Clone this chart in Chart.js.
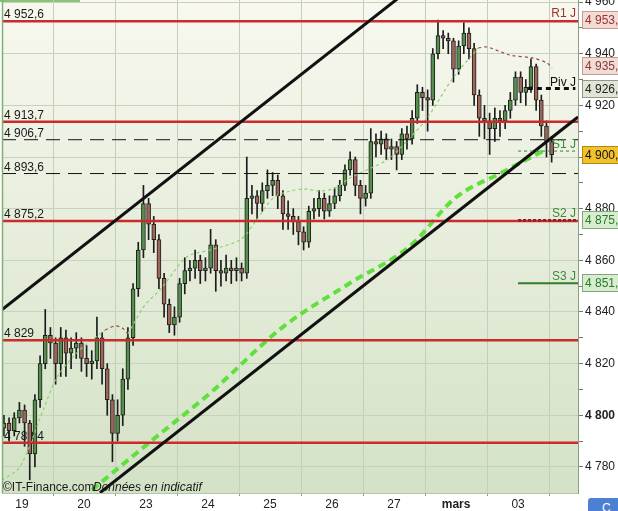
<!DOCTYPE html>
<html>
<head>
<meta charset="utf-8">
<script src="https://cdn.jsdelivr.net/npm/chart.js@4.4.1/dist/chart.umd.min.js"></script>
<style>
  html, body { margin: 0; padding: 0; background: #fff; }
  #wrap { position: relative; width: 618px; height: 511px; overflow: hidden; }
  #btn { position: absolute; left: 588px; top: 498px; width: 60px; height: 24px; background: #4d80d4;
         border-radius: 3px; color: #fff; font: 12px "Liberation Sans", Arial, sans-serif;
         padding: 3px 0 0 14px; box-sizing: border-box; }
</style>
</head>
<body>
<div id="wrap">
  <canvas id="cac40" width="618" height="511"></canvas>
  <div id="btn">C</div>
</div>
<script>
// jours (axe x en nombre de bougies, 12 bougies par jour)
const dayLabels = ['19', '20', '23', '24', '25', '26', '27', 'mars', '03'];
const dayStarts = [3.5, 15.5, 27.5, 39.5, 51.5, 63.5, 75.5, 87.5, 99.5];

// bougies
const opens = [4795,4797,4794,4799,4802,4797,4785,4806,4820,4831,
  4828,4820,4830,4824,4826,4828,4822,4820,4821,4830,
  4818,4806,4793,4800,4814,4830,4849,4864,4882,4874,
  4868,4853,4843,4835,4838,4851,4856,4857,4860,4856,
  4857,4866,4856,4855,4857,4856,4857,4855,4884,4885,
  4882,4887,4889,4891,4885,4878,4877,4875,4871,4867,
  4879,4880,4884,4879,4882,4885,4889,4895,4899,4889,
  4884,4886,4906,4905,4907,4903,4904,4901,4909,4907,
  4915,4925,4923,4922,4940,4947,4946,4945,4934,4943,
  4948,4942,4924,4915,4914,4911,4915,4914,4918,4922,
  4931,4925,4927,4935,4922,4912,4906];
const closes = [4797,4794,4799,4802,4797,4785,4806,4820,4831,4828,
  4820,4830,4824,4826,4828,4822,4820,4821,4830,4818,
  4806,4793,4800,4814,4830,4849,4864,4882,4874,4868,
  4853,4843,4835,4838,4851,4856,4857,4860,4856,4857,
  4866,4856,4855,4857,4856,4857,4855,4884,4885,4882,
  4887,4889,4891,4885,4878,4877,4875,4871,4867,4879,
  4880,4884,4879,4882,4885,4889,4895,4899,4889,4884,
  4886,4906,4905,4907,4903,4904,4901,4909,4907,4915,
  4925,4923,4922,4940,4947,4946,4945,4934,4943,4948,
  4942,4924,4915,4914,4911,4915,4914,4918,4922,4931,
  4925,4927,4935,4922,4912,4906,4900.9];
const highs = [4800,4799,4801,4805,4804,4798,4808,4823,4841,4834,
  4830,4834,4833,4830,4832,4830,4827,4825,4838,4832,
  4820,4808,4806,4818,4834,4851,4867,4889,4884,4877,
  4870,4855,4845,4842,4853,4861,4860,4864,4862,4861,
  4872,4868,4860,4862,4860,4861,4859,4900,4889,4887,
  4890,4895,4894,4893,4887,4883,4880,4877,4873,4881,
  4884,4887,4886,4885,4888,4891,4897,4902,4900,4891,
  4889,4911,4909,4910,4909,4907,4906,4911,4912,4918,
  4928,4927,4926,4942,4953,4949,4948,4946,4945,4952,
  4950,4944,4926,4920,4917,4919,4918,4920,4925,4933,
  4933,4930,4938,4936,4924,4914,4908];
const lows = [4792,4790,4792,4797,4788,4775,4780,4803,4818,4822,
  4812,4815,4815,4818,4822,4817,4815,4814,4818,4812,
  4800,4782,4790,4796,4810,4827,4846,4861,4868,4863,
  4849,4838,4832,4831,4836,4847,4852,4853,4851,4852,
  4855,4848,4850,4852,4851,4852,4852,4853,4878,4876,
  4879,4884,4885,4880,4872,4872,4870,4866,4864,4865,
  4876,4877,4876,4877,4880,4883,4887,4893,4885,4878,
  4881,4884,4900,4901,4899,4899,4895,4899,4903,4905,
  4913,4918,4910,4920,4938,4942,4940,4929,4932,4940,
  4938,4920,4908,4907,4901,4906,4908,4911,4915,4920,
  4921,4920,4925,4918,4908,4900,4898];

// moyennes mobiles [indice, valeur]
const longMA = [[17.05,4771.1],[28.3,4789.7],[39.9,4808.6],[54.0,4834.2],[67.0,4851.2],
  [78.6,4865.5],[87.3,4884.1],[96.6,4894.2],[104.7,4902.7]];
const shortMAup1 = [[-0.4,4774.9],[3.1,4780.0],[7.6,4802.0],[10.3,4814.8],[14.7,4825.3],[19.6,4833.0]];
const shortMAdown1 = [[19.6,4833.0],[21.5,4834.6],[22.9,4833.8],[24.0,4831.5]];
const shortMAup2 = [[24.0,4831.5],[27.3,4842.7],[30.2,4848.5],[35.4,4861.3],[39.9,4864.0],
  [45.7,4867.9],[48.6,4874.8],[52.1,4884.1],[55.4,4886.8],[58.3,4887.6],[61.2,4886.8],
  [64.1,4888.0],[67.0,4891.9],[74.1,4898.8],[76.7,4903.5],[81.9,4915.1],[86.9,4930.6],[91.8,4942.2]];
const shortMAdown2 = [[91.8,4942.2],[93.5,4942.6],[97.9,4939.5],[102.4,4938.3],[105.1,4936.4],[106.1,4934.4]];

// canal
const channelUpper = [[-0.4,4840.8],[80.5,4968.1]];
const channelLower = [[18.6,4770.0],[111.1,4915.5]];

// niveaux
const redLevels = [4952.6, 4913.7, 4875.2, 4829, 4789.4];
const dashedLevels = [4906.7, 4893.6];
const pivotNames = ['R1 J', 'Piv J', 'S1 J', 'S2 J', 'S3 J'];
const pivotValues = [4953.1, 4926.5, 4902.3, 4875.5, 4851.1];
const boxValues = [4953.1, 4935.1, 4926.5, 4900.9, 4875.5, 4851.1];
const yTickValues = [4780,4790,4800,4810,4820,4830,4840,4850,4860,4870,
  4880,4890,4900,4910,4920,4930,4940,4950,4960];

const X_MIN = -0.37, X_MAX = 111.1;
const FONT = '"Liberation Sans", Arial, sans-serif';

function fmt(v) {
  let s = (v % 1 !== 0) ? v.toFixed(1).replace('.', ',') : String(Math.round(v));
  return s.replace(/^(\d)(\d{3})/, '$1 $2');
}
const pts = arr => arr.map(p => ({ x: p[0], y: p[1] }));
const hline = v => [{ x: X_MIN, y: v }, { x: X_MAX, y: v }];

function lineDs(data, color, width, dash, order, extra) {
  return Object.assign({
    type: 'line', data: data, borderColor: color, borderWidth: width, borderDash: dash || [],
    pointRadius: 0, fill: false, tension: 0, order: order
  }, extra || {});
}

const datasets = [];
// meches
datasets.push({
  type: 'bar', data: closes.map((c, i) => ({ x: i, y: [lows[i], highs[i]] })),
  backgroundColor: '#1c1c1c', barThickness: 1, grouped: false, order: 20
});
// corps
datasets.push({
  type: 'bar', data: closes.map((c, i) => ({ x: i, y: [opens[i], c] })),
  backgroundColor: closes.map((c, i) => c >= opens[i] ? '#54904c' : '#9e6658'),
  borderColor: '#1e1e1e', borderWidth: 1, borderSkipped: false, barThickness: 4, grouped: false, order: 19
});
datasets.push(lineDs(pts(longMA), '#5fe03c', 4, [8, 5], 8, { cubicInterpolationMode: 'monotone' }));
datasets.push(lineDs(pts(shortMAup1), '#86d46e', 1.2, [3, 3], 9, { tension: 0.3 }));
datasets.push(lineDs(pts(shortMAdown1), '#9a4a44', 1.2, [3, 3], 9, { tension: 0.3 }));
datasets.push(lineDs(pts(shortMAup2), '#86d46e', 1.2, [3, 3], 9, { tension: 0.3 }));
datasets.push(lineDs(pts(shortMAdown2), '#9a4a44', 1.2, [3, 3], 9, { tension: 0.3 }));
redLevels.forEach(v => datasets.push(lineDs(hline(v), '#cc2b2b', 2.5, [], 3)));
dashedLevels.forEach(v => datasets.push(lineDs(hline(v), '#111', 1, [14, 8], 4)));
datasets.push(lineDs(pts(channelUpper), '#111', 3, [], 2));
datasets.push(lineDs(pts(channelLower), '#111', 3, [], 2));
// segments pivots
datasets.push(lineDs([{ x: 101.4, y: pivotValues[1] }, { x: 110.6, y: pivotValues[1] }], '#111', 3, [5, 4], 1));
datasets.push(lineDs([{ x: 99.5, y: pivotValues[2] }, { x: X_MAX, y: pivotValues[2] }], '#3a7a3a', 1, [3, 3], 1));
datasets.push(lineDs([{ x: 99.5, y: pivotValues[3] }, { x: X_MAX, y: pivotValues[3] }], '#8b2020', 2.5, [3, 2], 1));
datasets.push(lineDs([{ x: 99.5, y: pivotValues[4] }, { x: X_MAX, y: pivotValues[4] }], '#2d7d2d', 2, [], 1));

const boxStyles = [
  { bg: '#f2dcd6', border: '#c99a8c', text: '#a03030' },
  { bg: '#f0ddd6', border: '#c99a8c', text: '#8b3a3a' },
  { bg: '#dfe6d5', border: '#8f9a86', text: '#222' },
  { bg: '#f2c22c', border: '#b08a10', text: '#111' },
  { bg: '#d8ecd0', border: '#80a878', text: '#2a7a2a' },
  { bg: '#d8ecd0', border: '#80a878', text: '#2a7a2a' }
];
const pivotColors = ['#a03030', '#111', '#3a8a3a', '#3a8a3a', '#3a8a3a'];

const decor = {
  id: 'decor',
  beforeDraw(chart) {
    const { ctx, chartArea: a } = chart;
    ctx.save();
    ctx.fillStyle = '#fff';
    ctx.fillRect(0, 0, chart.width, chart.height);
    const g = ctx.createLinearGradient(0, a.top, 0, a.bottom);
    g.addColorStop(0, '#f8f8ef');
    g.addColorStop(0.5, '#e6eddb');
    g.addColorStop(1, '#d3e2c6');
    ctx.fillStyle = g;
    ctx.fillRect(a.left, a.top, a.right - a.left, a.bottom - a.top);
    ctx.fillStyle = '#8cc274';
    ctx.fillRect(0, 0, 80, 2);
    ctx.restore();
  },
  beforeDatasetsDraw(chart) {
    const { ctx, scales: { y } } = chart;
    ctx.save();
    ctx.font = '12px ' + FONT;
    ctx.fillStyle = '#1a1a1a';
    ctx.textBaseline = 'alphabetic';
    redLevels.concat(dashedLevels).forEach(v => {
      ctx.fillText(fmt(v), 4, y.getPixelForValue(v) - 3);
    });
    ctx.restore();
  },
  afterDatasetsDraw(chart) {
    const { ctx, chartArea: a, scales: { y } } = chart;
    ctx.save();
    ctx.strokeStyle = '#7fb070';
    ctx.lineWidth = 1.5;
    ctx.beginPath();
    ctx.moveTo(a.left + 0.5, a.top);
    ctx.lineTo(a.left + 0.5, a.bottom);
    ctx.stroke();
    ctx.font = '12px ' + FONT;
    ctx.textAlign = 'right';
    pivotNames.forEach((n, i) => {
      ctx.fillStyle = pivotColors[i];
      ctx.fillText(n, a.right - 2, y.getPixelForValue(pivotValues[i]) - 3);
    });
    ctx.textAlign = 'left';
    ctx.fillStyle = '#1a1a1a';
    ctx.fillText('\u00A9IT-Finance.com', 3, a.bottom - 2);
    ctx.font = 'italic 12px ' + FONT;
    ctx.fillText('Donn\u00e9es en indicatif', 93, a.bottom - 2);
    ctx.restore();
  },
  afterDraw(chart) {
    const { ctx, chartArea: a, scales: { y } } = chart;
    ctx.save();
    ctx.font = '12px ' + FONT;
    ctx.textBaseline = 'middle';
    boxValues.forEach((v, i) => {
      const py = Math.round(y.getPixelForValue(v));
      const st = boxStyles[i];
      ctx.fillStyle = st.bg;
      ctx.fillRect(a.right + 4.5, py - 8.5, 50, 17);
      ctx.strokeStyle = st.border;
      ctx.lineWidth = 1;
      ctx.strokeRect(a.right + 4.5, py - 8.5, 50, 17);
      ctx.fillStyle = st.text;
      ctx.fillText(fmt(v), a.right + 7, py + 1);
    });
    ctx.restore();
  }
};

new Chart(document.getElementById('cac40'), {
  type: 'bar',
  data: { datasets: datasets },
  plugins: [decor],
  options: {
    responsive: false,
    animation: false,
    layout: { padding: { left: 2, top: 0, right: 0, bottom: 0 } },
    plugins: { legend: { display: false }, tooltip: { enabled: false } },
    scales: {
      x: {
        type: 'linear', min: X_MIN, max: X_MAX, offset: false,
        afterBuildTicks: s => { s.ticks = dayStarts.map(v => ({ value: v })); },
        afterFit: s => { s.height = 18; s.paddingLeft = 0; s.paddingRight = 0; },
        grid: { color: '#c3cfbb', tickColor: '#8d9c84', tickLength: 3 },
        border: { color: '#b5c4ac' },
        ticks: {
          autoSkip: false, maxRotation: 0, padding: 1, color: '#222',
          font: c => ({ family: FONT, size: 12, weight: dayLabels[c.index] === 'mars' ? 'bold' : 'normal' }),
          callback: (v, i) => dayLabels[i]
        }
      },
      y: {
        type: 'linear', position: 'right', min: 4769.9, max: 4960.8,
        afterBuildTicks: s => { s.ticks = yTickValues.map(v => ({ value: v })); },
        afterFit: s => { s.width = 40; s.paddingTop = 0; s.paddingBottom = 0; },
        grid: {
          color: c => (c.tick && c.tick.value % 20 === 0) ? '#c6d2be' : 'rgba(0,0,0,0)',
          tickColor: '#6f7f66', tickLength: 5
        },
        border: { color: '#8d9c84' },
        ticks: {
          padding: 2, color: '#222',
          font: c => ({ family: FONT, size: 12, weight: (c.tick && c.tick.value === 4800) ? 'bold' : 'normal' }),
          callback: v => (v % 20 === 0 ? fmt(v) : '')
        }
      }
    }
  }
});
</script>
</body>
</html>
